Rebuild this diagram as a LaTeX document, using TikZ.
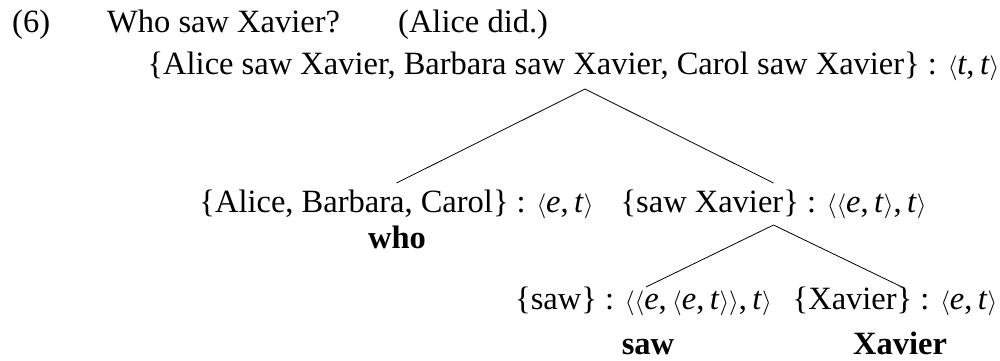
\documentclass[tikz,border=0pt]{standalone}
\usepackage{fontspec}
\setmainfont{Liberation Serif}
\newcommand\la{$\langle$}
\newcommand\ra{$\rangle$}
\newcommand\vi[1]{\textit{#1}}
\begin{document}
\begin{tikzpicture}[x=1pt,y=-1pt,
  lab/.style={inner sep=0pt,anchor=base,font=\fontsize{32.5}{39}\selectfont},
  word/.style={lab,font=\fontsize{32.5}{39}\selectfont\bfseries},
  edge/.style={line width=0.8pt,black}]
\useasboundingbox (0,0) rectangle (1000,360);
\node[lab,anchor=base west] (num) at (12,32) {(6)};
\node[lab,anchor=base west] (q) at (107,32) {Who saw Xavier?};
\node[lab,anchor=base west] (a) at (398,32) {(Alice did.)};
\node[lab] (root) at (573.5,74) {\{Alice saw Xavier, Barbara saw Xavier, Carol saw Xavier\} : \la\vi{t},\,\vi{t}\ra};
\node[lab] (left) at (396.5,212) {\{Alice, Barbara, Carol\} : \la\vi{e},\,\vi{t}\ra};
\node[word] (who) at (397,248) {who};
\node[lab] (right) at (773.5,212) {\{saw Xavier\} : \la\la\vi{e},\,\vi{t}\ra,\,\vi{t}\ra};
\node[lab] (saw) at (643.5,309) {\{saw\} : \la\la\vi{e},\,\la\vi{e},\,\vi{t}\ra\ra,\,\vi{t}\ra};
\node[word] (sawb) at (648,354) {saw};
\node[lab] (xav) at (895,309) {\{Xavier\} : \la\vi{e},\,\vi{t}\ra};
\node[word] (xavb) at (900,354) {Xavier};
\coordinate (rb) at ([xshift=11.5pt,yshift=-15pt]root.base);
\coordinate (lt) at ([yshift=29pt]left.base);
\coordinate (rt) at ([yshift=29pt]right.base);
\coordinate (rrb) at ([yshift=-13pt]right.base);
\coordinate (st) at ([xshift=2.5pt,yshift=22pt]saw.base);
\coordinate (xt) at ([xshift=7pt,yshift=22pt]xav.base);
\draw[edge] (rb) -- (lt);
\draw[edge] (rb) -- (rt);
\draw[edge] (rrb) -- (st);
\draw[edge] (rrb) -- (xt);
\end{tikzpicture}
\end{document}
